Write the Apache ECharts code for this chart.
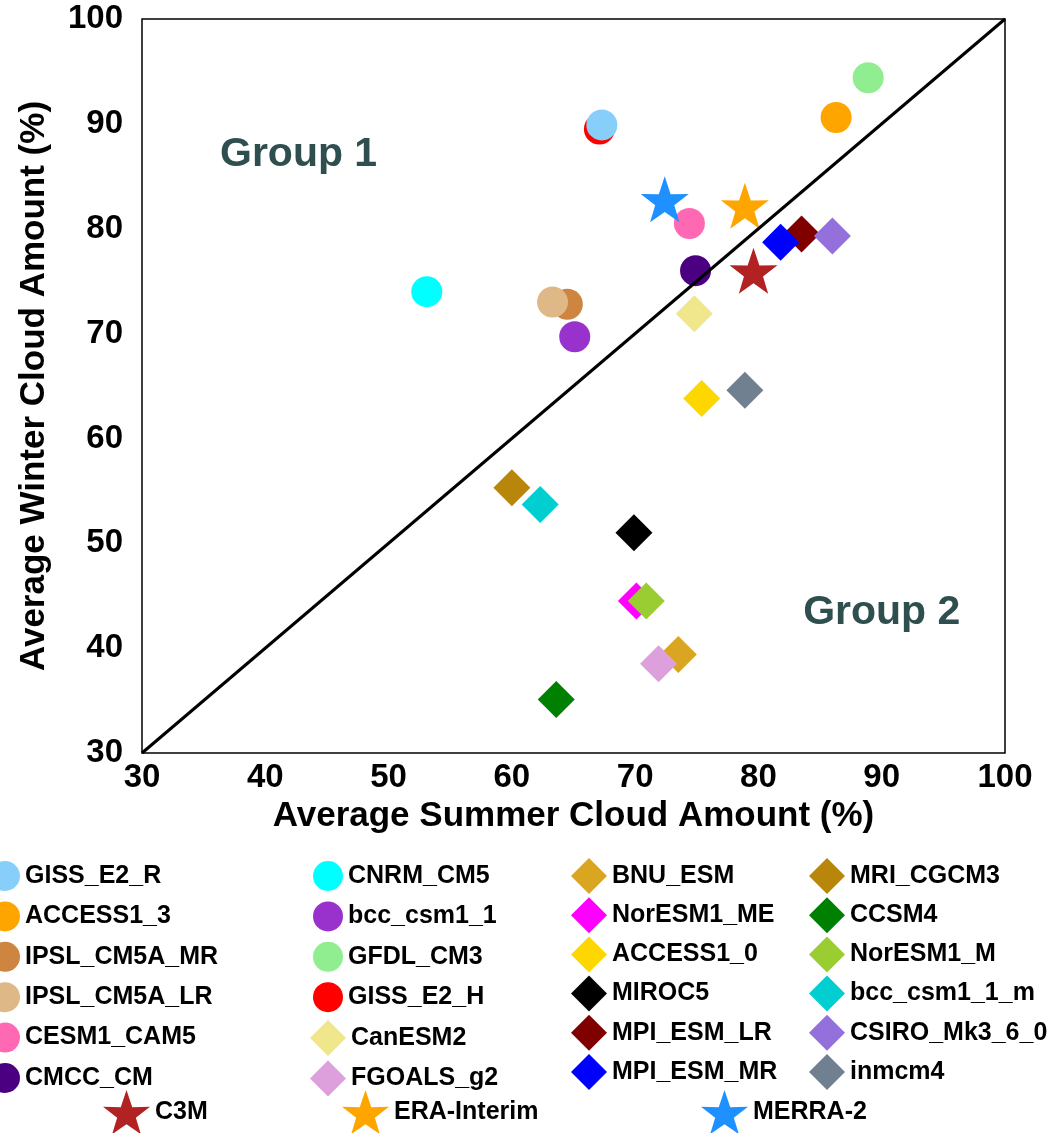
<!DOCTYPE html>
<html>
<head>
<meta charset="utf-8">
<title>Summer vs Winter Cloud Amount</title>
<script src="https://cdn.jsdelivr.net/npm/echarts@6/dist/echarts.min.js"></script>
<style>
  html, body { margin: 0; padding: 0; background: #fff; }
  #chart { width: 1060px; height: 1133px; }
</style>
</head>
<body>
<div id="chart"></div>
<script>
// model names, in legend order (4 columns of 6)
const modelNames = [
  'GISS_E2_R', 'ACCESS1_3', 'IPSL_CM5A_MR', 'IPSL_CM5A_LR', 'CESM1_CAM5', 'CMCC_CM',
  'CNRM_CM5', 'bcc_csm1_1', 'GFDL_CM3', 'GISS_E2_H', 'CanESM2', 'FGOALS_g2',
  'BNU_ESM', 'NorESM1_ME', 'ACCESS1_0', 'MIROC5', 'MPI_ESM_LR', 'MPI_ESM_MR',
  'MRI_CGCM3', 'CCSM4', 'NorESM1_M', 'bcc_csm1_1_m', 'CSIRO_Mk3_6_0', 'inmcm4'
];
// average summer cloud amount (%)
const summerCloud = [
  67.3, 86.3, 64.5, 63.3, 74.4, 74.9,
  53.1, 65.1, 88.9, 67.1, 74.8, 71.9,
  73.5, 70.1, 75.4, 69.9, 83.5, 81.8,
  60.0, 63.6, 70.9, 62.3, 86.0, 78.9
];
// average winter cloud amount (%)
const winterCloud = [
  89.9, 90.6, 72.8, 73.0, 80.5, 76.0,
  74.0, 69.7, 94.4, 89.5, 71.9, 38.5,
  39.4, 44.5, 63.8, 51.0, 79.5, 78.7,
  55.3, 35.1, 44.5, 53.7, 79.3, 64.6
];

// observations / reanalyses
const refNames = ['C3M', 'ERA-Interim', 'MERRA-2'];
const refSummer = [79.6, 78.9, 72.4];
const refWinter = [76.0, 82.2, 82.8];

const axisTicks = [30, 40, 50, 60, 70, 80, 90, 100];

// styles
const modelColors = {
  GISS_E2_R: '#87CEFA', ACCESS1_3: '#FFA500', IPSL_CM5A_MR: '#CD853F', IPSL_CM5A_LR: '#DEB887',
  CESM1_CAM5: '#FF69B4', CMCC_CM: '#4B0082', CNRM_CM5: '#00FFFF', bcc_csm1_1: '#9932CC',
  GFDL_CM3: '#90EE90', GISS_E2_H: '#FF0000', CanESM2: '#F0E68C', FGOALS_g2: '#DDA0DD',
  BNU_ESM: '#DAA520', NorESM1_ME: '#FF00FF', ACCESS1_0: '#FFD700', MIROC5: '#000000',
  MPI_ESM_LR: '#800000', MPI_ESM_MR: '#0000FF', MRI_CGCM3: '#B8860B', CCSM4: '#008000',
  NorESM1_M: '#9ACD32', bcc_csm1_1_m: '#00CED1', CSIRO_Mk3_6_0: '#9370DB', inmcm4: '#708090'
};
const refColors = { 'C3M': '#B22222', 'ERA-Interim': '#FFA500', 'MERRA-2': '#1E90FF' };
const circleModels = ['GISS_E2_R', 'ACCESS1_3', 'IPSL_CM5A_MR', 'IPSL_CM5A_LR', 'CESM1_CAM5',
  'CMCC_CM', 'CNRM_CM5', 'bcc_csm1_1', 'GFDL_CM3', 'GISS_E2_H'];
// drawn on top of their overlapping neighbour
const raised = { GISS_E2_R: 4, FGOALS_g2: 4 };

const STAR = 'path://M50,0 L61.8,35.1 L98.1,34.5 L69.1,56.7 L79.4,90.5 L50,70 L20.6,90.5 L30.9,56.7 L1.9,34.5 L38.2,35.1 Z';
const FONT = "'Liberation Sans', Arial, Helvetica, sans-serif";

window.addEventListener('load', function () {
  const chart = echarts.init(document.getElementById('chart'));

  const series = [];
  modelNames.forEach(function (name, i) {
    const isCircle = circleModels.indexOf(name) >= 0;
    series.push({
      name: name,
      type: 'scatter',
      symbol: isCircle ? 'circle' : 'diamond',
      symbolSize: isCircle ? 31 : 37,
      z: raised[name] || 2,
      itemStyle: { color: modelColors[name], opacity: 1 },
      emphasis: { disabled: true },
      data: [[summerCloud[i], winterCloud[i]]]
    });
  });
  refNames.forEach(function (name, i) {
    series.push({
      name: name,
      type: 'scatter',
      symbol: STAR,
      symbolSize: [48, 46],
      z: 5,
      itemStyle: { color: refColors[name], opacity: 1 },
      emphasis: { disabled: true },
      data: [[refSummer[i], refWinter[i]]]
    });
  });
  // 1:1 line
  series.push({
    type: 'line',
    z: 6,
    symbol: 'none',
    silent: true,
    lineStyle: { color: '#000', width: 3 },
    data: [[axisTicks[0], axisTicks[0]], [axisTicks[axisTicks.length - 1], axisTicks[axisTicks.length - 1]]]
  });

  const legendText = { fontSize: 25, fontWeight: 'bold', color: '#000', fontFamily: FONT };
  function legend(names, left, top, w, h, gap, orient) {
    return {
      data: names, left: left, top: top, orient: orient || 'vertical',
      itemWidth: w, itemHeight: h, itemGap: gap, padding: 0,
      selectedMode: false, textStyle: legendText
    };
  }

  const axisLabelStyle = { fontSize: 33, fontWeight: 'bold', color: '#000', fontFamily: FONT };
  const nameStyle = { fontSize: 35, fontWeight: 'bold', color: '#000', fontFamily: FONT };

  chart.setOption({
    animation: false,
    backgroundColor: '#fff',
    grid: {
      left: 142, right: 55, top: 19, bottom: 380,
      show: true, borderColor: '#000', borderWidth: 1.5, containLabel: false
    },
    xAxis: {
      type: 'value', min: 30, max: 100, interval: 10,
      name: 'Average Summer Cloud Amount (%)',
      nameLocation: 'middle', nameGap: 42, nameTextStyle: nameStyle,
      axisLine: { show: false }, axisTick: { show: false }, splitLine: { show: false },
      axisLabel: Object.assign({ margin: 8 }, axisLabelStyle)
    },
    yAxis: {
      type: 'value', min: 30, max: 100, interval: 10,
      name: 'Average Winter Cloud Amount (%)',
      nameLocation: 'middle', nameGap: 90, nameTextStyle: nameStyle,
      axisLine: { show: false }, axisTick: { show: false }, splitLine: { show: false },
      axisLabel: Object.assign({ margin: 19 }, axisLabelStyle)
    },
    legend: [
      legend(modelNames.slice(0, 6), -10, 861, 30, 30, 10.4),
      legend(modelNames.slice(6, 10), 313, 861, 30, 30, 10.4),
      legend(modelNames.slice(10, 12), 310, 1020, 36, 36, 4.4),
      legend(modelNames.slice(12, 18), 571, 858, 36, 36, 3.2),
      legend(modelNames.slice(18, 24), 809, 858, 36, 36, 3.2),
      legend([refNames[0]], 103, 1090, 47, 45, 0),
      legend([refNames[1]], 342, 1090, 47, 45, 0),
      legend([refNames[2]], 701, 1090, 47, 45, 0)
    ],
    series: series
  });

  // group annotations placed in data coordinates
  const groupText = [
    { text: 'Group 1', at: [42.7, 87.1] },
    { text: 'Group 2', at: [90.0, 43.4] }
  ];
  chart.setOption({
    graphic: groupText.map(function (g) {
      const p = chart.convertToPixel({ gridIndex: 0 }, g.at);
      return {
        type: 'text', x: p[0], y: p[1], z: 10,
        style: {
          text: g.text, fill: '#2F4F4F', fontSize: 41, fontWeight: 'bold',
          fontFamily: FONT, align: 'center', verticalAlign: 'middle'
        }
      };
    })
  });

  window.addEventListener('resize', () => chart.resize());
});
</script>
</body>
</html>
